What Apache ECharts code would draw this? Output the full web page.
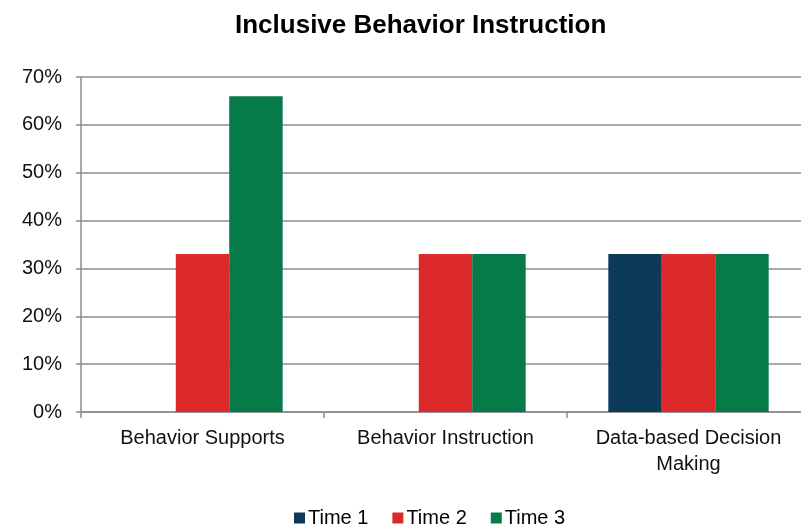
<!DOCTYPE html>
<html>
<head>
<meta charset="utf-8">
<script src="https://cdn.jsdelivr.net/npm/echarts@6/dist/echarts.min.js"></script>
<style>html,body{margin:0;padding:0;background:#fff;overflow:hidden;}#main{width:810px;height:526px;}</style>
</head>
<body>
<div id="main"></div>
<script>
const categories = ['Behavior Supports', 'Behavior Instruction', 'Data-based Decision\nMaking'];
const seriesNames = ['Time 1', 'Time 2', 'Time 3'];
const time1 = [0, 0, 33];
const time2 = [33, 33, 33];
const time3 = [66, 33, 33];
const yTicks = [0, 10, 20, 30, 40, 50, 60, 70];
const colors = ['#0e3a5a', '#dc2a2a', '#077a4a'];

const chart = echarts.init(document.getElementById('main'), null, {renderer: 'canvas'});
const font = 'Arial, "Liberation Sans", sans-serif';
const dataSets = [time1, time2, time3];
chart.setOption({
  animation: false,
  backgroundColor: '#ffffff',
  title: {
    text: 'Inclusive Behavior Instruction',
    left: 230, top: 8,
    textStyle: {fontFamily: font, fontSize: 26, fontWeight: 'bold', color: '#000'}
  },
  legend: {
    data: seriesNames,
    left: 289, top: 503,
    itemWidth: 11, itemHeight: 11, itemGap: 24,
    icon: 'rect',
    textStyle: {fontFamily: font, fontSize: 20, color: '#000', padding: [0,0,0,-2]}
  },
  grid: {left: 81, right: 0, top: 77, bottom: 114, containLabel: false},
  xAxis: {
    type: 'category',
    data: categories,
    axisLine: {lineStyle: {color: '#8c8c8c', width: 1.5}},
    axisTick: {show: true, interval: 0, length: 6, lineStyle: {color: '#8c8c8c', width: 1.5}},
    axisLabel: {interval: 0, fontFamily: font, fontSize: 20, color: '#111', margin: 13, lineHeight: 26}
  },
  yAxis: {
    type: 'value',
    min: yTicks[0], max: yTicks[yTicks.length - 1], interval: 10,
    axisLine: {show: true, lineStyle: {color: '#8c8c8c', width: 1.5}},
    axisTick: {show: true, length: 5, lineStyle: {color: '#8c8c8c', width: 1.5}},
    splitLine: {lineStyle: {color: '#8c8c8c', width: 1.5}},
    axisLabel: {fontFamily: font, fontSize: 20, color: '#111', margin: 19, formatter: v => v + '%'}
  },
  series: seriesNames.map((n, i) => ({
    name: n, type: 'bar', data: dataSets[i],
    barGap: '0%', barCategoryGap: '34%',
    itemStyle: {color: colors[i]}
  }))
});
</script>
</body>
</html>
